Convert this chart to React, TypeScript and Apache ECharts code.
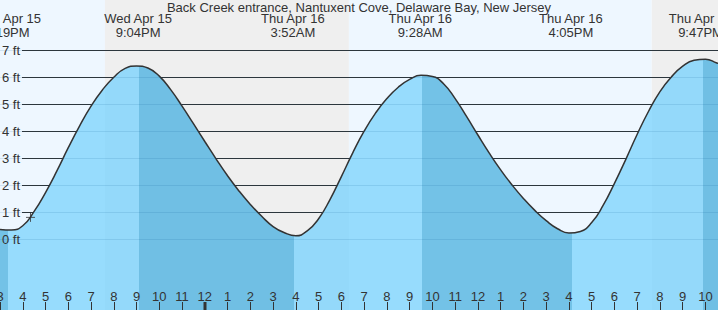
import React, { useEffect, useRef } from "react";
import * as echarts from "echarts";

// ---------- data (times are hours since Wed Apr 15 00:00) ----------
const TITLE = "Back Creek entrance, Nantuxent Cove, Delaware Bay, New Jersey";

const tideTimes = [
  15.0, 15.5, 16.0, 16.5, 17.0, 17.5, 18.0, 18.5, 19.0, 19.5,
  20.0, 20.5, 21.0, 21.5, 22.0, 22.5, 23.0, 23.5, 24.0, 24.5,
  25.0, 25.5, 26.0, 26.5, 27.0, 27.5, 28.0, 28.5, 29.0, 29.5,
  30.0, 30.5, 31.0, 31.5, 32.0, 32.5, 33.0, 33.5, 34.0, 34.5,
  35.0, 35.5, 36.0, 36.5, 37.0, 37.5, 38.0, 38.5, 39.0, 39.5,
  40.0, 40.5, 41.0, 41.5, 42.0, 42.5, 43.0, 43.5, 44.0, 44.5,
  45.0, 45.5, 46.0, 46.5, 46.55,
];
const tideHeights = [
  0.36, 0.34, 0.5, 1.03, 1.73, 2.53, 3.39, 4.2, 4.93, 5.53,
  6.0, 6.33, 6.42, 6.34, 6.04, 5.54, 4.93, 4.28, 3.62, 2.97,
  2.35, 1.79, 1.29, 0.85, 0.47, 0.24, 0.13, 0.31, 0.76, 1.47,
  2.32, 3.2, 4.0, 4.67, 5.21, 5.63, 5.92, 6.07, 6.03, 5.75,
  5.21, 4.55, 3.86, 3.19, 2.57, 2.01, 1.51, 1.07, 0.69, 0.39,
  0.23, 0.29, 0.62, 1.25, 2.07, 2.96, 3.89, 4.74, 5.47, 6.01,
  6.41, 6.63, 6.67, 6.53, 6.52,
];

// turning points of the curve (low / high water)
const lowTimes = [15.35, 27.93, 40.13];
const highTimes = [21.09, 33.54, 45.87];

const eventTimes = [15.317, 21.067, 27.867, 33.467, 40.083, 45.783];
const eventDays = ["Wed Apr 15", "Wed Apr 15", "Thu Apr 16", "Thu Apr 16", "Thu Apr 16", "Thu Apr 16"];
const eventClocks = ["3:19PM", "9:04PM", "3:52AM", "9:28AM", "4:05PM", "9:47PM"];

const sunsets = [19.61, 43.64];
const sunrises = [30.33];
const midnights = [24];

const depthLevels = [0, 1, 2, 3, 4, 5, 6, 7];

const nowTime = 16.34;
const nowHeight = 0.81;

// ---------- layout / style ----------
const X_MIN = 15;
const X_MAX = 46.55;
const Y_MIN = -2.62;
const Y_MAX = 8.86;
const FONT = "'Liberation Sans', Arial, Helvetica, sans-serif";
const TEXT = "#333";
const DAY_BG = "#eef7ff";
const NIGHT_BG = "#efefef";
const RISE_DAY = "#97dcfd";
const RISE_NIGHT = "#94d9fa";
const FALL_DAY = "#73c2e7";
const FALL_NIGHT = "#70bfe4";

function isNight(t: number): boolean {
  let lastSet = -Infinity;
  let lastRise = -Infinity;
  sunsets.forEach((s) => { if (s <= t && s > lastSet) lastSet = s; });
  sunrises.forEach((s) => { if (s <= t && s > lastRise) lastRise = s; });
  return lastSet > lastRise;
}

function buildOption() {
  const extremes = [
    ...lowTimes.map((t) => ({ t, low: true })),
    ...highTimes.map((t) => ({ t, low: false })),
  ].sort((a, b) => a.t - b.t);

  const rising = (t: number): boolean => {
    let prev: any = null;
    extremes.forEach((e) => { if (e.t <= t) prev = e; });
    if (prev) return prev.low;
    const next = extremes.find((e) => e.t > t);
    return next ? !next.low : true;
  };

  // background bands
  const bandEdges = [X_MIN, ...sunsets, ...sunrises, X_MAX].sort((a, b) => a - b);
  const bands: number[][] = [];
  for (let i = 0; i < bandEdges.length - 1; i++) {
    const m = (bandEdges[i] + bandEdges[i + 1]) / 2;
    bands.push([bandEdges[i], bandEdges[i + 1], isNight(m) ? 1 : 0]);
  }

  // fill pieces
  const pieceEdges = [X_MIN - 1, ...extremes.map((e) => e.t), ...sunsets, ...sunrises, X_MAX + 1].sort((a, b) => a - b);
  const pieces: any[] = [];
  for (let i = 0; i < pieceEdges.length - 1; i++) {
    const m = (pieceEdges[i] + pieceEdges[i + 1]) / 2;
    const r = rising(m);
    const n = isNight(m);
    pieces.push({
      gte: pieceEdges[i],
      lt: pieceEdges[i + 1],
      color: r ? (n ? RISE_NIGHT : RISE_DAY) : (n ? FALL_NIGHT : FALL_DAY),
    });
  }

  const series: any[] = [
    {
      type: "custom",
      name: "bands",
      z: 0,
      silent: true,
      data: bands,
      renderItem: (_p: any, api: any) => {
        const p0 = api.coord([api.value(0), Y_MAX]);
        const p1 = api.coord([api.value(1), Y_MIN]);
        return {
          type: "rect",
          shape: { x: p0[0], y: p0[1], width: p1[0] - p0[0], height: p1[1] - p0[1] },
          style: { fill: api.value(2) ? NIGHT_BG : DAY_BG },
        };
      },
    },
    {
      type: "custom",
      name: "gridDark",
      z: 1,
      silent: true,
      data: depthLevels.map((l) => [X_MIN, l]),
      renderItem: (_p: any, api: any) => {
        const p = api.coord([X_MIN, api.value(1)]);
        const y = Math.floor(p[1]) + 0.5;
        return {
          type: "line",
          shape: { x1: p[0] + 22, y1: y, x2: 720, y2: y },
          style: { stroke: TEXT, lineWidth: 1 },
        };
      },
    },
    {
      type: "line",
      name: "tide",
      z: 2,
      silent: true,
      data: tideTimes.map((t, i) => [t, tideHeights[i]]),
      smooth: 0.5,
      symbol: "none",
      lineStyle: { color: "#333", width: 1.5 },
      areaStyle: { opacity: 1, origin: "start" },
    },
    {
      type: "custom",
      name: "gridLight",
      z: 3,
      silent: true,
      data: depthLevels.map((l) => [X_MIN, l]),
      renderItem: (_p: any, api: any) => {
        const p = api.coord([X_MIN, api.value(1)]);
        const y = Math.floor(p[1]) + 0.5;
        return {
          type: "line",
          shape: { x1: p[0], y1: y, x2: 720, y2: y },
          style: { stroke: "rgba(0,80,140,0.12)", lineWidth: 1 },
        };
      },
    },
    {
      type: "custom",
      name: "depthLabels",
      z: 5,
      silent: true,
      data: depthLevels.map((l) => [X_MIN, l]),
      renderItem: (_p: any, api: any) => {
        const p = api.coord([X_MIN, api.value(1)]);
        return {
          type: "text",
          x: p[0] + 2,
          y: p[1],
          style: {
            text: `${api.value(1)} ft`,
            fill: TEXT,
            fontSize: 13,
            fontFamily: FONT,
            align: "left",
            verticalAlign: "middle",
          },
        };
      },
    },
    {
      type: "custom",
      name: "eventLabels",
      z: 5,
      silent: true,
      data: eventTimes.map((t, i) => [t, Y_MAX, i]),
      renderItem: (_p: any, api: any) => {
        const p = api.coord([api.value(0), Y_MAX]);
        const i = api.value(2);
        return {
          type: "text",
          x: p[0],
          y: 11,
          style: {
            text: `${eventDays[i]}\n${eventClocks[i]}`,
            fill: TEXT,
            fontSize: 13,
            fontFamily: FONT,
            align: "center",
            verticalAlign: "top",
            lineHeight: 14,
          },
        };
      },
    },
    {
      type: "custom",
      name: "midnight",
      z: 6,
      silent: true,
      data: midnights.map((t) => [t, Y_MIN]),
      renderItem: (_p: any, api: any) => {
        const p = api.coord([api.value(0), Y_MIN]);
        return {
          type: "rect",
          shape: { x: Math.round(p[0]) - 1.5, y: p[1] - 8, width: 3, height: 8 },
          style: { fill: TEXT },
        };
      },
    },
    {
      type: "scatter",
      name: "now",
      z: 6,
      silent: true,
      data: [[nowTime, nowHeight]],
      symbol: "path://M0,5L10,5M5,0L5,10",
      symbolSize: 9,
      itemStyle: { color: "none", borderColor: TEXT, borderWidth: 1 },
    },
  ];

  return {
    animation: false,
    backgroundColor: "#ffffff",
    title: {
      text: TITLE,
      left: "center",
      top: 1,
      padding: 0,
      textStyle: { fontSize: 13, fontWeight: "normal", color: TEXT, fontFamily: FONT },
    },
    grid: { left: 0, right: 0, top: 0, bottom: 0, containLabel: false, outerBoundsMode: "none" },
    xAxis: {
      type: "value",
      min: X_MIN,
      max: X_MAX,
      interval: 1,
      z: 10,
      axisLine: { show: false, onZero: false },
      splitLine: { show: false },
      axisTick: { show: true, inside: true, length: 8, lineStyle: { color: TEXT, width: 1 } },
      axisLabel: {
        inside: true,
        margin: 7,
        color: TEXT,
        fontSize: 13,
        fontFamily: FONT,
        showMinLabel: true,
        showMaxLabel: false,
        hideOverlap: false,
        formatter: (v: number) => {
          const h = ((Math.round(v) % 12) + 12) % 12;
          return String(h === 0 ? 12 : h);
        },
      },
    },
    yAxis: { type: "value", min: Y_MIN, max: Y_MAX, show: false },
    visualMap: {
      type: "piecewise",
      show: false,
      dimension: 0,
      seriesIndex: 2,
      pieces,
    },
    series,
  };
}

export default function App() {
  const ref = useRef<HTMLDivElement>(null);
  useEffect(() => {
    if (!ref.current) return;
    const chart = echarts.init(ref.current, undefined, { renderer: "svg" });
    chart.setOption(buildOption() as any);
    return () => chart.dispose();
  }, []);
  return (
    <div
      ref={ref}
      style={{ position: "absolute", left: 0, top: 0, width: 718, height: 310 }}
    />
  );
}
